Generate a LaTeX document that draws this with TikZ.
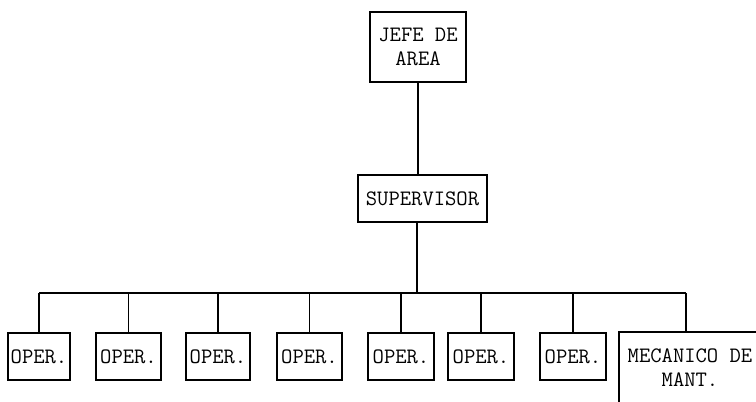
\documentclass[tikz,border=0pt]{standalone}
\usepackage{tikz}
\tikzset{
  puesto/.style={draw, line width=1.6pt, inner sep=2pt, align=center,
    font=\ttfamily\fontsize{22}{24}\selectfont},
  liga/.style={line width=1.4pt}
}

\begin{document}
\begin{tikzpicture}[x=1pt, y=1pt]
  \clip (0,0) rectangle (756,402);
  \fill[white] (0,0) rectangle (756,402);
  \node[puesto, minimum width=96pt, minimum height=70pt] (jefe) at (418,355) {JEFE DE\\AREA};
  \node[puesto, minimum width=129pt, minimum height=47pt] (super) at (422.5,203.5) {SUPERVISOR};
  \coordinate (bus) at (417,109);
  \foreach \x/\w/\n in {39/62/1, 128.5/65/2, 218/64/3, 309.5/65/4, 401/66/5, 481/66/6, 573/66/7} {
    \node[puesto, minimum width=\w pt, minimum height=47pt] (oper\n) at (\x,45.5) {OPER.};
    \draw[liga] (oper\n.north) -- (oper\n.north |- bus);
  }
  \node[puesto, minimum width=142pt, minimum height=72pt] (meca) at (690,34) {MECANICO DE\\MANT.};
  \draw[liga] (meca.north -| 686,0) -- (686,0 |- bus);
  \draw[liga] (jefe.south) -- (jefe.south |- super.north);
  \draw[liga] (super.south -| bus) -- (bus);
  \draw[liga] (oper1.north |- bus) -- (686,0 |- bus);
\end{tikzpicture}
\end{document}
